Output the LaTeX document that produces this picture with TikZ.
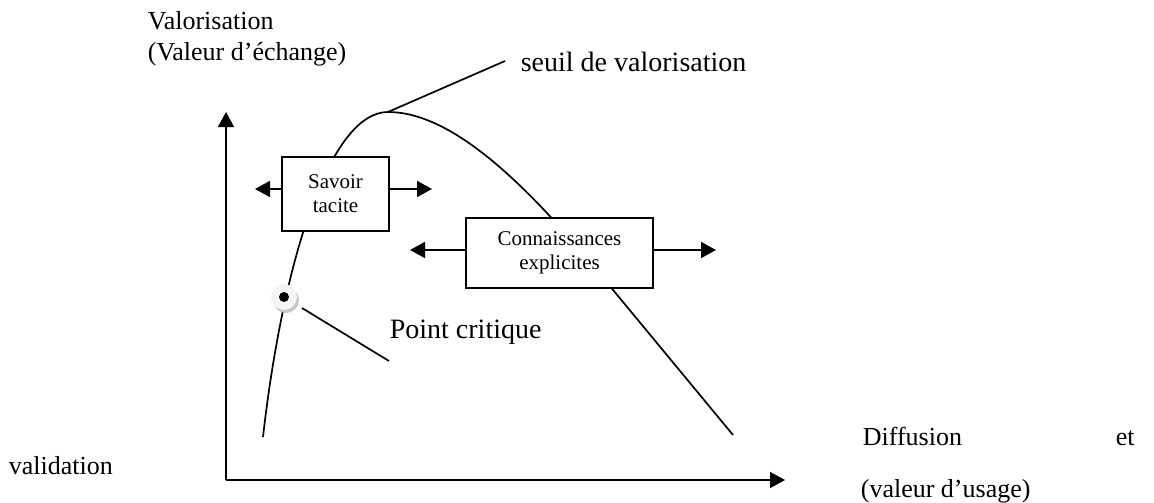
\documentclass[tikz,border=0pt]{standalone}
\usepackage{fontspec}
\setmainfont{Liberation Serif}
\usetikzlibrary{arrows.meta,calc}
\begin{document}
\begin{tikzpicture}[x=1pt,y=-1pt,
  line width=1.7pt,
  big/.style={font=\fontsize{26}{30}\selectfont, inner sep=0pt, anchor=base west},
  large/.style={big, font=\fontsize{28}{30}\selectfont},
  boxlbl/.style={draw, fill=white, line width=1.7pt, font=\fontsize{21}{24}\selectfont, align=center, inner sep=0pt},
  arr/.style={-{Triangle[length=15pt,width=16pt]}},
  curve/.style={line width=1.7pt},
  leader/.style={line width=1.7pt}]
\useasboundingbox (0,0) rectangle (1154,503);

% axes
\coordinate (O) at (226,480);
\coordinate (ytop) at (226,112);
\coordinate (xend) at (785,480);
\draw[arr] (O) -- (ytop);
\draw[arr] (O) -- (xend);

% value curve
\coordinate (c0) at (263,437);
\coordinate (peak) at (388,112);
\coordinate (c1) at (580,250);
\coordinate (c2) at (733,435);
\draw[curve] (c0) .. controls (283,260) and (330,112) .. (peak)
  .. controls (450,112) and (520,180) .. (c1) -- (c2);

% threshold leader
\coordinate (seuilend) at (505,61);
\draw[leader] (peak) -- (seuilend);
\node[large] (seuil) at (520,72) {seuil de valorisation};

% axis titles
\node[big] (val1) at (147,30) {Valorisation};
\node[big] (val2) at (147,60) {(Valeur d’échange)};
\node[big] (diff) at (862,445) {Diffusion};
\node[big] (et) at (1115,445) {et};
\node[big] (valid) at (8,474) {validation};
\node[big] (usage) at (860,497) {(valeur d’usage)};

% boxes
\node[boxlbl, minimum width=107pt, minimum height=74pt] (tacit) at (335.5,194) {Savoir\\tacite};
\node[boxlbl, minimum width=187pt, minimum height=70pt] (expl) at (559.5,253) {Connaissances\\explicites};

\coordinate (tl) at (255,189);
\coordinate (tr) at (432,189);
\draw[arr] (tacit.west |- tl) -- (tl);
\draw[arr] (tacit.east |- tr) -- (tr);
\coordinate (el) at (410,250);
\coordinate (er) at (716,250);
\draw[arr] (expl.west |- el) -- (el);
\draw[arr] (expl.east |- er) -- (er);

% critical point
\coordinate (pc) at (284,297);
\fill[gray!45] ($(pc)+(2,3)$) circle (13pt);
\node[circle, fill=gray!8, minimum size=26pt, inner sep=0pt] (dot) at (pc) {};
\fill[black] (dot.center) circle (5pt);
\coordinate (pcend) at (389,361);
\draw[leader] (302,308) -- (pcend);
\node[large] (crit) at (389,338) {Point critique};
\end{tikzpicture}
\end{document}
